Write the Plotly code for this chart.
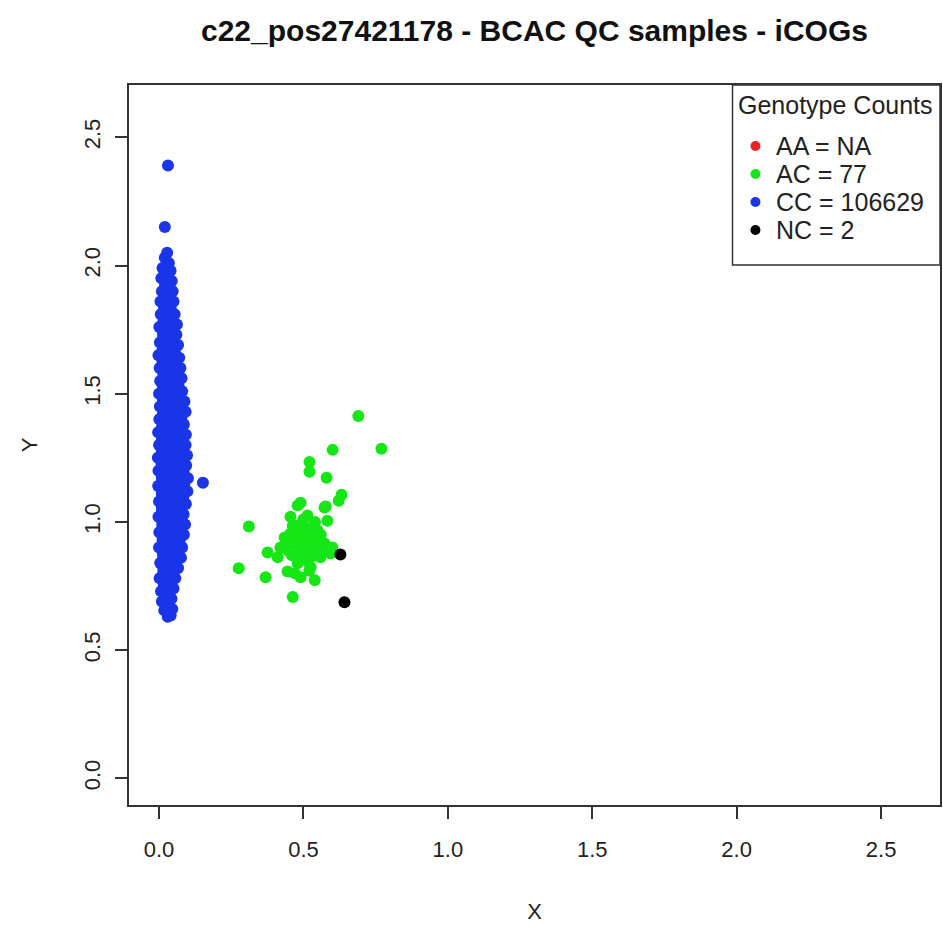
import plotly.graph_objects as go

# ---- data ----
title_text = "c22_pos27421178 - BCAC QC samples - iCOGs"
tick_vals = [0.0, 0.5, 1.0, 1.5, 2.0, 2.5]
tick_text = ["0.0", "0.5", "1.0", "1.5", "2.0", "2.5"]
axis_range = [-0.104, 2.704]

legend_title = "Genotype Counts"
legend_keys = ["AA", "AC", "CC", "NC"]
legend_labels = ["AA = NA", "AC = 77", "CC = 106629", "NC = 2"]
colors = {"AA": "#ee2222", "AC": "#16e616", "CC": "#1a35e8", "NC": "#000000"}

# CC cluster (dense column): left edge top->bottom
cc_left_x = [0.020, 0.012, 0.008, 0.010, 0.005, 0.006, 0.001, 0.003, -0.002, 0.002,
             0.004, 0.000, 0.003, 0.001, -0.003, 0.000, -0.004, -0.002, -0.003, 0.000,
             -0.002, 0.001, 0.000, 0.004, 0.002, 0.007, 0.010, 0.018, 0.030]
cc_left_y = [2.030, 1.990, 1.950, 1.900, 1.860, 1.810, 1.760, 1.700, 1.650, 1.600,
             1.550, 1.500, 1.450, 1.400, 1.350, 1.300, 1.250, 1.200, 1.140, 1.080,
             1.020, 0.960, 0.900, 0.840, 0.780, 0.730, 0.690, 0.655, 0.630]
# right edge bottom->top
cc_right_x = [0.040, 0.046, 0.043, 0.050, 0.056, 0.066, 0.076, 0.080, 0.086, 0.090,
              0.085, 0.093, 0.098, 0.100, 0.094, 0.097, 0.092, 0.093, 0.086, 0.092,
              0.088, 0.080, 0.078, 0.074, 0.070, 0.066, 0.060, 0.062, 0.054, 0.050,
              0.047, 0.044, 0.040, 0.034, 0.028]
cc_right_y = [0.635, 0.660, 0.700, 0.740, 0.780, 0.820, 0.860, 0.900, 0.950, 0.990,
              1.030, 1.070, 1.120, 1.170, 1.220, 1.260, 1.300, 1.340, 1.380, 1.430,
              1.470, 1.510, 1.560, 1.600, 1.640, 1.690, 1.730, 1.770, 1.810, 1.860,
              1.900, 1.940, 1.980, 2.010, 2.050]
# CC isolated points
cc_out_x = [0.031, 0.020, 0.152]
cc_out_y = [2.390, 2.150, 1.153]

# AC cluster
ac_x = [0.690, 0.770, 0.601, 0.521, 0.521, 0.580, 0.632, 0.622, 0.490, 0.577,
        0.311, 0.276, 0.369, 0.463, 0.539, 0.490, 0.445, 0.376, 0.411, 0.480,
        0.573, 0.514, 0.583, 0.463, 0.435, 0.549, 0.573, 0.594, 0.559, 0.504,
        0.480, 0.525, 0.490, 0.470, 0.525, 0.549, 0.504, 0.445, 0.460, 0.535,
        0.510, 0.455, 0.500, 0.530, 0.485, 0.515, 0.555, 0.420, 0.470, 0.500,
        0.540, 0.600, 0.455, 0.520, 0.475, 0.495, 0.515, 0.545, 0.565, 0.505,
        0.465, 0.530, 0.490, 0.560, 0.450, 0.510, 0.540]
ac_y = [1.413, 1.285, 1.281, 1.234, 1.196, 1.172, 1.106, 1.083, 1.075, 1.060,
        0.982, 0.819, 0.784, 0.707, 0.773, 0.784, 0.807, 0.881, 0.862, 1.064,
        1.056, 1.025, 1.005, 0.986, 0.939, 0.967, 0.916, 0.877, 0.862, 0.901,
        0.839, 0.823, 0.955, 0.916, 0.928, 0.889, 0.862, 0.889, 0.870, 0.947,
        0.975, 0.955, 0.930, 0.900, 0.880, 0.845, 0.935, 0.900, 0.800, 1.010,
        1.000, 0.900, 1.020, 0.810, 0.945, 0.905, 0.955, 0.915, 0.895, 0.880,
        0.935, 0.865, 0.990, 0.950, 0.910, 0.940, 0.960]

# NC points
nc_x = [0.628, 0.642]
nc_y = [0.873, 0.687]

MS = 12
BASE_FONT = "Liberation Sans, Arial, sans-serif"
FS = 22
LEG_FS = 25

fig = go.Figure()

# filled body of the dense CC column
fig.add_trace(go.Scatter(
    x=cc_left_x + cc_right_x + cc_left_x[:1], y=cc_left_y + cc_right_y + cc_left_y[:1],
    mode="lines", fill="toself", fillcolor=colors["CC"],
    line=dict(color=colors["CC"], width=5),
    showlegend=False, hoverinfo="skip"))

fig.add_trace(go.Scatter(
    x=ac_x, y=ac_y, mode="markers", name=legend_labels[1], showlegend=False,
    marker=dict(color=colors["AC"], size=MS)))

fig.add_trace(go.Scatter(
    x=cc_left_x + cc_right_x + cc_out_x, y=cc_left_y + cc_right_y + cc_out_y,
    mode="markers", name=legend_labels[2], showlegend=False,
    marker=dict(color=colors["CC"], size=MS)))

fig.add_trace(go.Scatter(
    x=nc_x, y=nc_y, mode="markers", name=legend_labels[3], showlegend=False,
    marker=dict(color=colors["NC"], size=MS)))

axis_common = dict(
    range=axis_range, tickvals=tick_vals, ticktext=tick_text,
    ticks="outside", ticklen=12, tickwidth=1.5, tickcolor="#333",
    showline=True, mirror=True, linecolor="#333", linewidth=1.5,
    showgrid=False, zeroline=False,
    tickfont=dict(family=BASE_FONT, size=FS, color="#222"),
)

# ---- R-style legend box (top-right, inside plot) ----
W, H = 943, 926
ML, MR, MT, MB = 129, 1, 85, 121
PW, PH = W - ML - MR, H - MT - MB


def px_x(px):
    return (px - ML) / PW


def px_y(py):
    return (H - MB - py) / PH


shapes = [dict(type="rect", xref="paper", yref="paper",
               x0=px_x(734), x1=1.0, y0=px_y(265), y1=1.0,
               line=dict(color="#333", width=1.5), fillcolor="white", layer="above")]
annotations = [dict(text=legend_title, xref="paper", yref="paper",
                    x=px_x(837), y=px_y(105), showarrow=False,
                    xanchor="center", yanchor="middle",
                    font=dict(family=BASE_FONT, size=LEG_FS, color="#222"))]
for i, (k, lab) in enumerate(zip(legend_keys, legend_labels)):
    cy = px_y(146 + 28 * i)
    shapes.append(dict(type="circle", xref="paper", yref="paper",
                       xsizemode="pixel", ysizemode="pixel",
                       xanchor=px_x(757), yanchor=cy,
                       x0=-5, x1=5, y0=-5, y1=5,
                       fillcolor=colors[k], line=dict(width=0), layer="above"))
    annotations.append(dict(text=lab, xref="paper", yref="paper",
                            x=px_x(776), y=cy, showarrow=False,
                            xanchor="left", yanchor="middle",
                            font=dict(family=BASE_FONT, size=LEG_FS, color="#222")))

fig.update_layout(
    width=W, height=H,
    margin=dict(l=ML, r=MR, t=MT, b=MB),
    paper_bgcolor="white", plot_bgcolor="white",
    showlegend=False,
    title=dict(text="<b>" + title_text + "</b>", x=0.5, xref="paper",
               y=1 - 30 / H, yref="container", yanchor="middle",
               font=dict(family=BASE_FONT, size=30, color="#111")),
    xaxis=dict(**axis_common, ticklabelstandoff=12,
               title=dict(text="X", standoff=42,
                          font=dict(family=BASE_FONT, size=FS, color="#222"))),
    yaxis=dict(**axis_common, tickangle=-90, ticklabelstandoff=6,
               title=dict(text="Y", standoff=37,
                          font=dict(family=BASE_FONT, size=FS, color="#222"))),
    shapes=shapes,
    annotations=annotations,
)

fig.write_html("out.html")
